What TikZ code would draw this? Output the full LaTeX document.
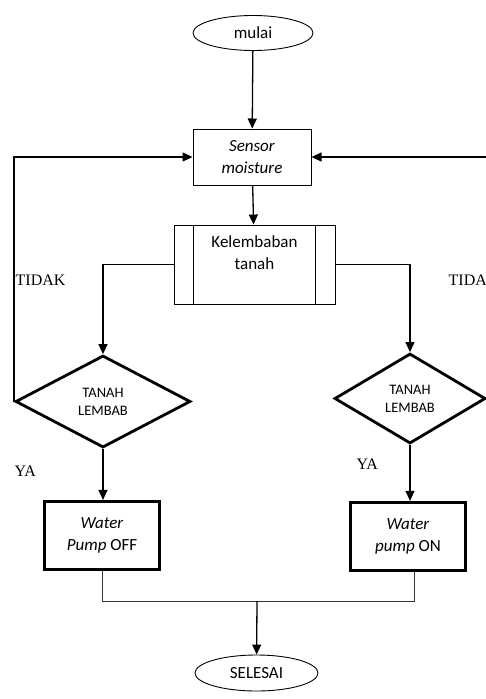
\documentclass[tikz,border=0pt]{standalone}
\usepackage{fontspec}
\setmainfont{Carlito}
\newfontfamily\timesfont{Liberation Serif}
\usetikzlibrary{arrows.meta,shapes.geometric}

\begin{document}
\begin{tikzpicture}[x=1pt,y=-1pt,->,>={Triangle[length=10pt,width=9pt]},line width=1.3pt,
    term/.style={ellipse,draw,line width=0.9pt,minimum width=120pt,minimum height=35pt,inner sep=0pt,font=\fontsize{17}{21}\selectfont},
    proc/.style={rectangle,draw,line width=1pt,minimum width=118pt,minimum height=56pt,inner sep=0pt,align=center,font=\fontsize{17}{22}\selectfont},
    pump/.style={proc,line width=3.2pt,minimum width=115pt,minimum height=68pt},
    cek/.style={diamond,draw,line width=2.8pt,inner sep=0pt,align=center,font=\fontsize{14.5}{18}\selectfont},
    lbl/.style={anchor=west,inner sep=0pt,font=\timesfont\fontsize{16}{18}\selectfont}]
    \useasboundingbox (0,0) rectangle (486,699);
    \node[term] (mulai) at (253,33) {mulai};
    \node[proc] (sensor) at (252,157) {\textit{Sensor}\\\textit{moisture}};
    \node[proc,line width=0.9pt,minimum width=161pt,minimum height=79pt] (kelem) at (254.5,264.5) {Kelembaban\\tanah\\[2pt]};
    \draw[-,line width=0.9pt] ([xshift=20pt]kelem.north west) -- ([xshift=20pt]kelem.south west);
    \draw[-,line width=0.9pt] ([xshift=-20pt]kelem.north east) -- ([xshift=-20pt]kelem.south east);
    \node[cek,minimum width=175pt,minimum height=92pt] (cekkiri) at (103,401.5) {TANAH\\LEMBAB};
    \node[cek,minimum width=151pt,minimum height=90pt] (cekkanan) at (410,398.5) {TANAH\\LEMBAB};
    \node[pump] (pumpoff) at (102,535.5) {\textit{Water}\\\textit{Pump} OFF};
    \node[pump] (pumpon) at (408,536.5) {\textit{Water}\\\textit{pump} ON};
    \coordinate (gabung) at (257,601);
    \node[term,minimum width=123pt,minimum height=36pt] (selesai) at (256.5,673) {SELESAI};

    \node[lbl] (tidakkiri) at (15,280) {TIDAK};
    \node[lbl] (tidakkanan) at (448,280) {TIDA};
    \node[lbl] (yakiri) at (14,471) {YA};
    \node[lbl] (yakanan) at (356,464) {YA};

    \draw (mulai) -- (sensor);
    \draw (sensor) -- (kelem);
    \draw (kelem.west) -| (cekkiri.north);
    \draw (kelem.east) -| (cekkanan.north);
    \draw (cekkiri.west) |- (sensor.west);
    \draw (cekkanan.east) |- (sensor.east);
    \draw (cekkiri.south) -- (cekkiri.south |- pumpoff.north);
    \draw (cekkanan.south) -- (cekkanan.south |- pumpon.north);
    \draw[-,line width=0.8pt,black!80] (pumpoff.south) |- (gabung);
    \draw[-,line width=0.8pt,black!80] ([xshift=6pt]pumpon.south) |- (gabung);
    \draw (gabung) -- (selesai);
\end{tikzpicture}
\end{document}
